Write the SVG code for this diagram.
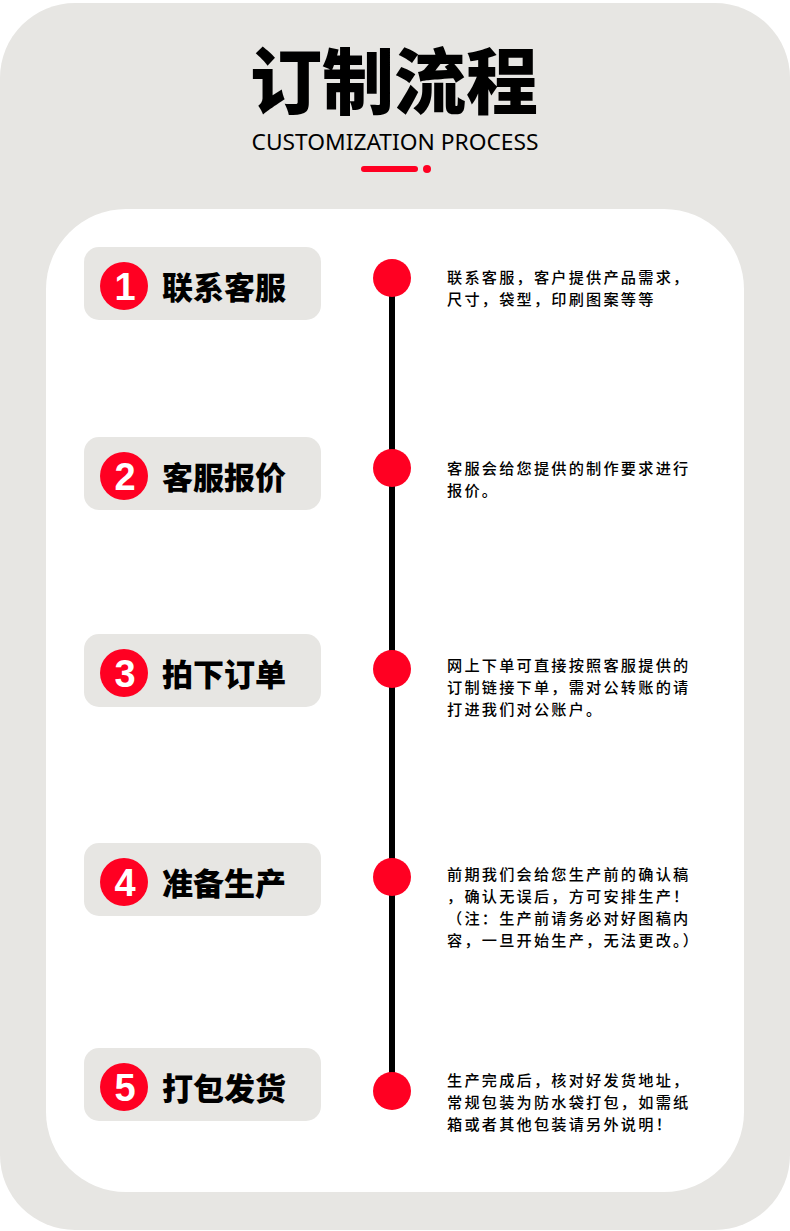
<svg xmlns="http://www.w3.org/2000/svg" width="790" height="1231" viewBox="0 0 790 1231">
<style>
.bg{fill:#e7e6e3}
.card{fill:#ffffff}
.pill{fill:#e7e6e3}
.num{fill:#ff0022}
.numt{font-family:"Liberation Sans","DejaVu Sans",sans-serif;font-weight:bold;font-size:38px;fill:#ffffff;text-anchor:middle}
.lab{font-family:"Noto Sans CJK SC",sans-serif;font-weight:900;font-size:31px;fill:#000}
.desc{font-family:"Noto Sans CJK SC",sans-serif;font-size:15.2px;letter-spacing:2.2px;font-weight:500;fill:#000}
.dot{fill:#ff0022}
</style>
<rect x="0" y="3" width="790" height="1227" rx="75" ry="75" class="bg"/>
<rect x="0" y="100" width="10" height="1030" class="bg"/>
<text x="394" y="108" text-anchor="middle" font-family="Noto Sans CJK SC,sans-serif" font-weight="900" font-size="72" fill="#000">订制流程</text>
<text x="395" y="150" text-anchor="middle" font-family="Noto Sans,sans-serif" font-size="21" fill="#000" textLength="287" lengthAdjust="spacingAndGlyphs">CUSTOMIZATION PROCESS</text>
<rect x="361" y="166" width="57" height="6" rx="3" fill="#ff0022"/>
<ellipse cx="427" cy="169" rx="4" ry="4" fill="#ff0022"/>
<rect x="46" y="209" width="698" height="983" rx="80" ry="80" class="card"/>
<g id="connectors">
<rect x="389" y="278" width="6" height="812" fill="#000"/>
</g>
<g id="step1">
<rect x="84" y="247" width="237" height="73" rx="15" class="pill"/>
<circle cx="124" cy="286" r="24" class="num"/>
<text x="125" y="300" class="numt">1</text>
<text x="162" y="299" class="lab">联系客服</text>
<circle cx="392" cy="278" r="19" class="dot"/>
<text class="desc"><tspan x="447" y="283">联系客服，客户提供产品需求，</tspan><tspan x="447" y="305">尺寸，袋型，印刷图案等等</tspan></text>
</g>
<g id="step2">
<rect x="84" y="437" width="237" height="73" rx="15" class="pill"/>
<circle cx="124" cy="476" r="24" class="num"/>
<text x="125" y="490" class="numt">2</text>
<text x="162" y="489" class="lab">客服报价</text>
<circle cx="392" cy="468" r="19" class="dot"/>
<text class="desc"><tspan x="447" y="474">客服会给您提供的制作要求进行</tspan><tspan x="447" y="496">报价。</tspan></text>
</g>
<g id="step3">
<rect x="84" y="634" width="237" height="73" rx="15" class="pill"/>
<circle cx="124" cy="673" r="24" class="num"/>
<text x="125" y="687" class="numt">3</text>
<text x="162" y="686" class="lab">拍下订单</text>
<circle cx="392" cy="669" r="19" class="dot"/>
<text class="desc"><tspan x="447" y="671">网上下单可直接按照客服提供的</tspan><tspan x="447" y="693">订制链接下单，需对公转账的请</tspan><tspan x="447" y="715">打进我们对公账户。</tspan></text>
</g>
<g id="step4">
<rect x="84" y="843" width="237" height="73" rx="15" class="pill"/>
<circle cx="124" cy="882" r="24" class="num"/>
<text x="125" y="896" class="numt">4</text>
<text x="162" y="895" class="lab">准备生产</text>
<circle cx="392" cy="877" r="19" class="dot"/>
<text class="desc"><tspan x="447" y="880">前期我们会给您生产前的确认稿</tspan><tspan x="447" y="902">，确认无误后，方可安排生产！</tspan><tspan x="447" y="924">（注：生产前请务必对好图稿内</tspan><tspan x="447" y="946">容，一旦开始生产，无法更改。）</tspan></text>
</g>
<g id="step5">
<rect x="84" y="1048" width="237" height="73" rx="15" class="pill"/>
<circle cx="124" cy="1087" r="24" class="num"/>
<text x="125" y="1101" class="numt">5</text>
<text x="162" y="1100" class="lab">打包发货</text>
<circle cx="392" cy="1091" r="19" class="dot"/>
<text class="desc"><tspan x="447" y="1086">生产完成后，核对好发货地址，</tspan><tspan x="447" y="1108">常规包装为防水袋打包，如需纸</tspan><tspan x="447" y="1130">箱或者其他包装请另外说明！</tspan></text>
</g>
</svg>
